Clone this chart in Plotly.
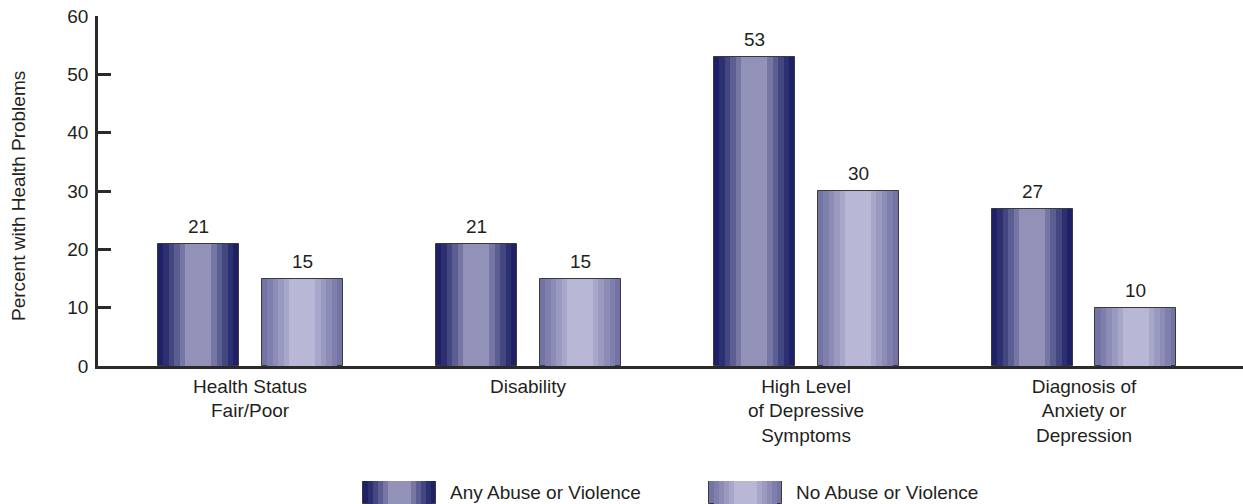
import plotly.graph_objects as go

# ---------------- data ----------------
categories = ["Health Status<br>Fair/Poor", "Disability",
              "High Level<br>of Depressive<br>Symptoms",
              "Diagnosis of<br>Anxiety or<br>Depression"]
any_abuse = [21, 21, 53, 27]
no_abuse = [15, 15, 30, 10]
series_names = ["Any Abuse or Violence", "No Abuse or Violence"]
y_ticks = [0, 10, 20, 30, 40, 50, 60]

# ---------------- styles ----------------
FONT = "Liberation Sans, Arial, sans-serif"
TXT = "#231f20"
AXC = "#2a2a2a"
FS = 19
# edge -> center stripe colours per series
dark_layers = ["#1e2166", "#2c2f72", "#44467f", "#5c5d92", "#7576a3", "#9292b8"]
light_layers = ["#7373a5", "#7f7fae", "#8c8cb6", "#9a9ac0", "#a7a7ca", "#b8b8d6"]
layer_colors = [dark_layers, light_layers]
shifts = [-0.187, 0.187]
BAR_W = 0.2914
STRIPE = 0.068  # fraction of bar width per stripe (each side)

W, H = 1243, 504
L, T = 98, 16
x_range = [-0.547, 3.572]
main_dom = [0.2828, 1.0]

fig = go.Figure()
xs = list(range(len(categories)))
series_vals = [any_abuse, no_abuse]

for s, vals in enumerate(series_vals):
    cols = layer_colors[s]
    for k, col in enumerate(cols):
        w = BAR_W * (1 - 2 * k * STRIPE)
        fig.add_trace(go.Bar(
            x=xs, y=vals, width=[w] * len(xs),
            offset=[shifts[s] - w / 2] * len(xs),
            marker=dict(color=col,
                        line=dict(color="#3a3a3a" if k == 0 else col,
                                  width=1 if k == 0 else 0)),
            showlegend=False, hoverinfo="skip", xaxis="x", yaxis="y"))
    for i, v in enumerate(vals):
        fig.add_annotation(x=i + shifts[s], y=v, xref="x", yref="y",
                           text=str(v), showarrow=False, yanchor="bottom",
                           yshift=5, font=dict(family=FONT, size=FS, color=TXT))

# ---------------- custom legend with striped swatches ----------------
LEG_W = 0.211
for s, name in enumerate(series_names):
    cols = layer_colors[s]
    for k, col in enumerate(cols):
        w = LEG_W * (1 - 2 * k * STRIPE)
        fig.add_trace(go.Bar(
            x=[s], y=[1], width=[w], offset=[-w / 2],
            marker=dict(color=col,
                        line=dict(color="#3a3a3a" if k == 0 else col,
                                  width=1 if k == 0 else 0)),
            showlegend=False, hoverinfo="skip", xaxis="x2", yaxis="y2"))
    fig.add_annotation(x=s + LEG_W / 2 + 0.035, y=0.5, xref="x2", yref="y2",
                       text=name, showarrow=False, xanchor="left",
                       yanchor="middle",
                       font=dict(family=FONT, size=FS, color=TXT))

# y-axis title
fig.add_annotation(x=-0.0699, y=0.631, xref="paper", yref="paper",
                   text="Percent with Health Problems", textangle=-90,
                   showarrow=False, xanchor="center", yanchor="middle",
                   font=dict(family=FONT, size=FS, color=TXT))

fig.update_layout(
    width=W, height=H,
    margin=dict(l=L, r=0, t=T, b=0, pad=0),
    paper_bgcolor="white", plot_bgcolor="white",
    barmode="overlay", bargap=0,
    showlegend=False,
    font=dict(family=FONT, size=FS, color=TXT),
    xaxis=dict(domain=[0, 1], range=x_range, anchor="y",
               tickvals=xs, ticktext=categories, ticks="",
               showline=True, linecolor=AXC, linewidth=2.5,
               showgrid=False, zeroline=False, automargin=False,
               ticklabelstandoff=1,
               tickfont=dict(family=FONT, size=FS, color=TXT)),
    yaxis=dict(domain=main_dom, range=[0, 60], tickvals=y_ticks,
               ticks="inside", ticklen=13, tickwidth=2.5, tickcolor=AXC,
               showline=True, linecolor=AXC, linewidth=2.5,
               showgrid=False, zeroline=False, automargin=False,
               ticklabelstandoff=3,
               tickfont=dict(family=FONT, size=FS, color=TXT)),
    xaxis2=dict(domain=[0, 1], range=[-0.871, 2.438], anchor="y2",
                visible=False, fixedrange=True),
    yaxis2=dict(domain=[0, 0.0471], range=[0, 1], anchor="x2",
                visible=False, fixedrange=True),
)

fig.write_html("out.html")
